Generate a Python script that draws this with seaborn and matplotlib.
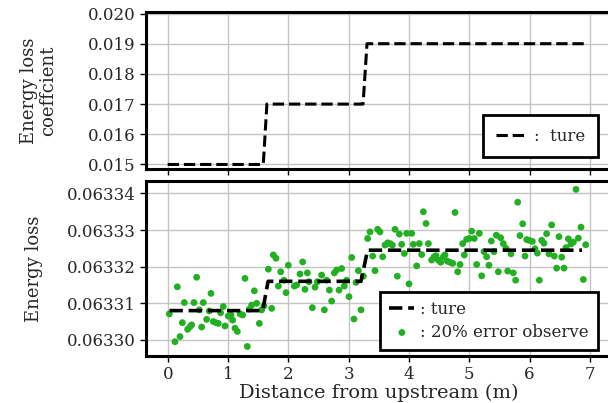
import numpy as np
import pandas as pd
import matplotlib
matplotlib.use("Agg")
import matplotlib.pyplot as plt
from matplotlib.ticker import FormatStrFormatter, MultipleLocator
import seaborn as sns

# true energy loss coefficient along the reach
coef_x = [0.0, 1.585, 1.645, 3.24, 3.305, 6.97]
coef_true = [0.015, 0.015, 0.017, 0.017, 0.019, 0.019]

# true energy loss
loss_x = [0.03, 1.575, 1.665, 3.205, 3.315, 6.87]
loss_true = [0.0633080, 0.0633080, 0.0633160, 0.0633160, 0.0633245, 0.0633245]

# observed energy loss (20% error)
obs_x = [
    0.027, 0.121, 0.160, 0.204, 0.243, 0.276, 0.331, 0.370, 0.397, 0.436,
    0.480, 0.525, 0.563, 0.590, 0.646, 0.690, 0.718, 0.757, 0.800, 0.840,
    0.878, 0.922, 0.950, 1.005, 1.050, 1.077, 1.116, 1.155, 1.200, 1.243,
    1.282, 1.320, 1.354, 1.392, 1.437, 1.475, 1.520, 1.558, 1.597, 1.669,
    1.724, 1.752, 1.796, 1.835, 1.874, 1.928, 1.962, 2.000, 2.100, 2.139,
    2.194, 2.238, 2.277, 2.316, 2.343, 2.399, 2.443, 2.482, 2.553, 2.598,
    2.636, 2.681, 2.719, 2.764, 2.802, 2.841, 2.885, 2.929, 2.968, 3.007,
    3.051, 3.089, 3.123, 3.162, 3.206, 3.245, 3.316, 3.355, 3.399, 3.438,
    3.482, 3.520, 3.565, 3.604, 3.648, 3.687, 3.726, 3.770, 3.808, 3.842,
    3.880, 3.924, 3.963, 4.002, 4.046, 4.073, 4.129, 4.173, 4.212, 4.240,
    4.284, 4.323, 4.377, 4.416, 4.449, 4.488, 4.527, 4.571, 4.599, 4.637,
    4.682, 4.726, 4.765, 4.809, 4.848, 4.892, 4.919, 4.958, 5.002, 5.041,
    5.085, 5.124, 5.168, 5.207, 5.245, 5.289, 5.328, 5.367, 5.411, 5.450,
    5.483, 5.522, 5.566, 5.610, 5.638, 5.693, 5.731, 5.770, 5.804, 5.842,
    5.887, 5.925, 5.953, 5.991, 6.047, 6.091, 6.130, 6.163, 6.202, 6.240,
    6.284, 6.323, 6.367, 6.411, 6.450, 6.489, 6.533, 6.572, 6.605, 6.644,
    6.688, 6.727, 6.771, 6.810, 6.854, 6.893, 6.932,
]
obs_loss = [
    0.0633071, 0.0632995, 0.0633145, 0.0633009, 0.0633047, 0.0633102, 0.0633029, 0.0633036, 0.0633041, 0.0633102,
    0.0633171, 0.0633082, 0.0633035, 0.0633102, 0.0633056, 0.0633079, 0.0633127, 0.0633050, 0.0633047, 0.0633045,
    0.0633074, 0.0633091, 0.0633038, 0.0633065, 0.0633068, 0.0633054, 0.0633032, 0.0633023, 0.0633071, 0.0633068,
    0.0633168, 0.0632982, 0.0633084, 0.0633095, 0.0633134, 0.0633100, 0.0633045, 0.0633082, 0.0633093, 0.0633193,
    0.0633086, 0.0633232, 0.0633223, 0.0633147, 0.0633186, 0.0633163, 0.0633129, 0.0633204, 0.0633147, 0.0633150,
    0.0633180, 0.0633213, 0.0633138, 0.0633183, 0.0633159, 0.0633088, 0.0633144, 0.0633159, 0.0633177, 0.0633082,
    0.0633163, 0.0633136, 0.0633106, 0.0633183, 0.0633191, 0.0633136, 0.0633195, 0.0633147, 0.0633163, 0.0633118,
    0.0633225, 0.0633057, 0.0633157, 0.0633189, 0.0633082, 0.0633174, 0.0633277, 0.0633295, 0.0633229, 0.0633189,
    0.0633302, 0.0633295, 0.0633227, 0.0633259, 0.0633265, 0.0633263, 0.0633259, 0.0633302, 0.0633174, 0.0633289,
    0.0633261, 0.0633236, 0.0633291, 0.0633153, 0.0633291, 0.0633261, 0.0633202, 0.0633263, 0.0633233, 0.0633350,
    0.0633318, 0.0633263, 0.0633218, 0.0633227, 0.0633230, 0.0633218, 0.0633212, 0.0633227, 0.0633232, 0.0633215,
    0.0633212, 0.0633209, 0.0633348, 0.0633186, 0.0633206, 0.0633263, 0.0633232, 0.0633275, 0.0633277, 0.0633297,
    0.0633277, 0.0633206, 0.0633291, 0.0633175, 0.0633241, 0.0633227, 0.0633204, 0.0633270, 0.0633241, 0.0633286,
    0.0633186, 0.0633279, 0.0633263, 0.0633250, 0.0633188, 0.0633235, 0.0633183, 0.0633163, 0.0633376, 0.0633285,
    0.0633317, 0.0633229, 0.0633274, 0.0633272, 0.0633269, 0.0633249, 0.0633237, 0.0633163, 0.0633272, 0.0633264,
    0.0633290, 0.0633235, 0.0633314, 0.0633229, 0.0633196, 0.0633282, 0.0633226, 0.0633196, 0.0633252, 0.0633276,
    0.0633262, 0.0633267, 0.0633411, 0.0633278, 0.0633308, 0.0633165, 0.0633260,
]

GREEN = "#22b022"
FS = 12

sns.set_style("whitegrid", {"grid.color": "#c4c4c4", "axes.edgecolor": "black"})
plt.rcParams["font.family"] = ["DejaVu Serif"]
plt.rcParams["mathtext.fontset"] = "dejavuserif"

fig = plt.figure(figsize=(6.08, 4.03), dpi=100)
W, H = 608.0, 403.0
ax1 = fig.add_axes([145.5 / W, (H - 169) / H, (612 - 145.5) / W, 157 / H])
ax2 = fig.add_axes([145.5 / W, (H - 356) / H, (612 - 145.5) / W, 175 / H])

# top: coefficient
sns.lineplot(x=coef_x, y=coef_true, ax=ax1, color="black", lw=2.2,
             linestyle="--", estimator=None, sort=False, label=":  ture")
ax1.set_ylim(0.01485, 0.02005)
ax1.yaxis.set_major_locator(MultipleLocator(0.001))
ax1.yaxis.set_major_formatter(FormatStrFormatter("%.3f"))
ax1.set_ylabel("Energy loss\ncoeffcient", fontsize=FS + 1, labelpad=22,
               linespacing=1.1)
ax1.tick_params(labelbottom=False)

# bottom: energy loss
sns.lineplot(x=loss_x, y=loss_true, ax=ax2, color="black", lw=2.6,
             linestyle="--", estimator=None, sort=False, label=": ture", zorder=3)
sns.scatterplot(x=obs_x, y=obs_loss, ax=ax2, color=GREEN, s=24,
                edgecolor="none", label=": 20% error observe", zorder=2)
ax2.set_ylim(0.0632956, 0.0633434)
ax2.yaxis.set_major_locator(MultipleLocator(0.00001))
ax2.yaxis.set_major_formatter(FormatStrFormatter("%.5f"))
ax2.set_ylabel("Energy loss", fontsize=FS + 1, labelpad=17)
ax2.set_xlabel("Distance from upstream (m)", fontsize=FS + 2, labelpad=1)

for ax in (ax1, ax2):
    ax.set_xlim(-0.368, 7.368)
    ax.xaxis.set_major_locator(MultipleLocator(1))
    ax.grid(True, color="#c4c4c4", lw=1.0)
    for side in ("left", "top", "bottom"):
        ax.spines[side].set_linewidth(2.2)
        ax.spines[side].set_color("black")
    ax.spines["right"].set_visible(False)
    ax.tick_params(axis="both", which="major", direction="out", length=4,
                   width=1.0, color="black", labelsize=FS, left=True, bottom=True, pad=3)

leg1 = ax1.legend(loc="lower right", bbox_to_anchor=(0.970, 0.076), borderaxespad=0,
                  fontsize=FS, frameon=True, fancybox=False, framealpha=1,
                  edgecolor="black", handlelength=1.8, handletextpad=0.5,
                  borderpad=0.75)
leg1.get_frame().set_linewidth(2.0)

leg2 = ax2.legend(loc="lower right", bbox_to_anchor=(0.970, 0.034), borderaxespad=0,
                  fontsize=FS, frameon=True, fancybox=False, framealpha=1,
                  edgecolor="black", handlelength=1.5, handletextpad=0.35,
                  scatterpoints=1, labelspacing=0.35, borderpad=0.55)
leg2.get_frame().set_linewidth(2.0)

fig.savefig("out.png", dpi=100, facecolor="white")
